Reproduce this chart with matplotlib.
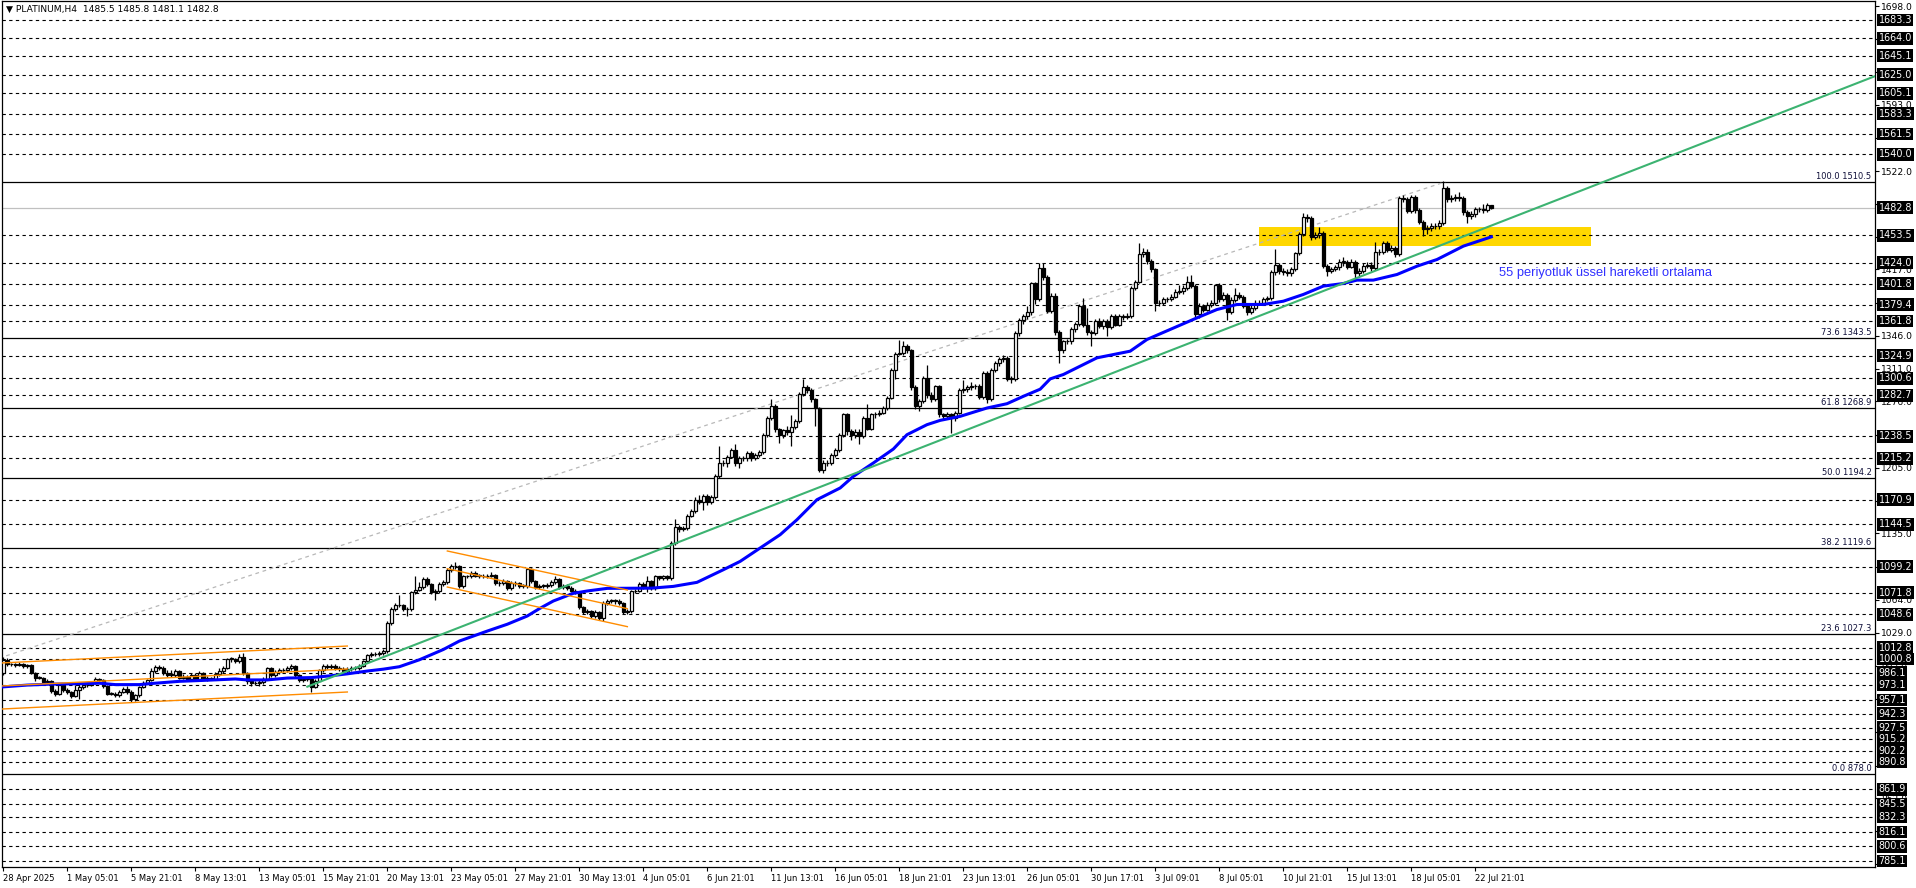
import numpy as np
import matplotlib.pyplot as plt
from matplotlib.patches import Rectangle
from matplotlib.transforms import blended_transform_factory

# свечи H4 (open = close предыдущей свечи)
first_open = 986
closes = [
    1000, 995, 995, 994, 995, 993, 994, 986, 981, 981,
    976, 977, 967, 963, 973, 968, 966, 961, 968, 971,
    973, 973, 975, 980, 978, 972, 964, 964, 962, 966,
    969, 966, 958, 962, 971, 975, 978, 988, 992, 991,
    986, 984, 984, 988, 981, 982, 979, 984, 979, 986,
    981, 980, 980, 985, 988, 991, 1001, 1001, 999, 1003,
    986, 977, 975, 975, 976, 980, 991, 984, 987, 989,
    989, 991, 993, 984, 978, 980, 980, 971, 977, 989,
    993, 992, 993, 991, 990, 988, 990, 991, 991, 993,
    999, 1005, 1006, 1006, 1007, 1009, 1039, 1054, 1059, 1058,
    1054, 1054, 1072, 1075, 1078, 1086, 1081, 1072, 1073, 1081,
    1083, 1096, 1100, 1100, 1079, 1089, 1089, 1093, 1090, 1090,
    1089, 1090, 1091, 1082, 1082, 1084, 1077, 1082, 1082, 1079,
    1079, 1097, 1084, 1078, 1079, 1079, 1080, 1083, 1086, 1078,
    1079, 1077, 1074, 1072, 1056, 1051, 1052, 1047, 1051, 1045,
    1061, 1063, 1063, 1063, 1061, 1051, 1052, 1073, 1074, 1081,
    1078, 1084, 1077, 1089, 1087, 1089, 1087, 1125, 1142, 1140,
    1141, 1154, 1159, 1171, 1169, 1175, 1168, 1174, 1196, 1210,
    1210, 1217, 1224, 1210, 1215, 1215, 1221, 1215, 1219, 1222,
    1240, 1258, 1271, 1246, 1240, 1245, 1243, 1249, 1255, 1284,
    1291, 1288, 1278, 1269, 1203, 1210, 1210, 1219, 1224, 1240,
    1262, 1244, 1240, 1243, 1239, 1258, 1247, 1262, 1262, 1264,
    1269, 1280, 1310, 1327, 1328, 1335, 1331, 1291, 1271, 1276,
    1301, 1283, 1278, 1292, 1262, 1260, 1262, 1258, 1264, 1288,
    1289, 1291, 1292, 1292, 1281, 1306, 1278, 1310, 1317, 1321,
    1322, 1300, 1300, 1349, 1363, 1367, 1371, 1402, 1385, 1418,
    1409, 1372, 1389, 1350, 1331, 1340, 1340, 1353, 1359, 1378,
    1358, 1350, 1349, 1362, 1356, 1362, 1355, 1367, 1358, 1367,
    1366, 1367, 1397, 1404, 1433, 1435, 1426, 1417, 1381, 1381,
    1385, 1385, 1388, 1393, 1394, 1397, 1404, 1399, 1369, 1378,
    1374, 1379, 1381, 1400, 1385, 1390, 1371, 1384, 1390, 1388,
    1378, 1371, 1376, 1381, 1381, 1385, 1386, 1414, 1422, 1415,
    1414, 1413, 1417, 1434, 1455, 1473, 1472, 1452, 1454, 1456,
    1421, 1415, 1417, 1419, 1425, 1425, 1420, 1425, 1413, 1415,
    1421, 1422, 1418, 1435, 1436, 1445, 1438, 1440, 1433, 1493,
    1492, 1479, 1494, 1480, 1468, 1460, 1461, 1463, 1463, 1467,
    1504, 1492, 1493, 1494, 1493, 1478, 1474, 1476, 1481, 1481,
    1480, 1485.5, 1482.8,
]
highs = [
    1003, 1002, 997, 997, 998, 997, 996, 996, 987, 983,
    982, 979, 978, 969, 975, 974, 970, 967, 973, 974,
    975, 975, 977, 982, 981, 979, 973, 966, 966, 968,
    971, 972, 968, 964, 972, 977, 980, 991, 994, 994,
    993, 989, 989, 990, 989, 985, 984, 986, 986, 988,
    987, 983, 982, 987, 991, 993, 1002, 1003, 1002, 1006,
    1007, 987, 978, 977, 978, 982, 992, 992, 989, 991,
    991, 993, 996, 994, 985, 982, 982, 981, 979, 990,
    995, 995, 995, 995, 993, 992, 992, 993, 993, 995,
    1000, 1006, 1008, 1008, 1009, 1011, 1041, 1056, 1061, 1069,
    1060, 1056, 1074, 1089, 1083, 1088, 1088, 1082, 1076, 1083,
    1085, 1098, 1102, 1104, 1101, 1091, 1091, 1095, 1095, 1092,
    1092, 1092, 1094, 1092, 1084, 1086, 1085, 1084, 1084, 1083,
    1081, 1098, 1098, 1085, 1081, 1081, 1082, 1085, 1090, 1087,
    1081, 1081, 1079, 1076, 1073, 1057, 1054, 1053, 1053, 1052,
    1063, 1065, 1065, 1065, 1065, 1062, 1054, 1075, 1076, 1083,
    1083, 1090, 1085, 1091, 1090, 1091, 1091, 1127, 1150, 1144,
    1143, 1156, 1161, 1174, 1176, 1177, 1177, 1176, 1198, 1228,
    1213, 1219, 1226, 1230, 1218, 1218, 1223, 1223, 1221, 1224,
    1242, 1260, 1278, 1273, 1248, 1247, 1250, 1261, 1257, 1286,
    1300, 1293, 1290, 1280, 1270, 1213, 1213, 1221, 1226, 1242,
    1264, 1264, 1246, 1246, 1246, 1260, 1273, 1264, 1265, 1267,
    1271, 1282, 1312, 1329, 1342, 1341, 1337, 1332, 1293, 1279,
    1303, 1315, 1286, 1294, 1293, 1264, 1265, 1264, 1266, 1290,
    1299, 1294, 1297, 1295, 1295, 1308, 1308, 1312, 1319, 1323,
    1325, 1324, 1303, 1351, 1365, 1369, 1378, 1404, 1404, 1424,
    1424, 1411, 1392, 1392, 1352, 1342, 1343, 1355, 1361, 1380,
    1386, 1376, 1352, 1364, 1365, 1364, 1364, 1369, 1369, 1369,
    1369, 1370, 1399, 1406, 1445, 1440, 1439, 1428, 1418, 1384,
    1388, 1388, 1391, 1396, 1400, 1400, 1410, 1411, 1401, 1381,
    1380, 1382, 1384, 1401, 1402, 1393, 1392, 1387, 1397, 1393,
    1390, 1380, 1379, 1384, 1384, 1388, 1389, 1416, 1439, 1424,
    1418, 1417, 1420, 1436, 1457, 1477, 1476, 1474, 1457, 1462,
    1458, 1423, 1420, 1422, 1428, 1430, 1427, 1428, 1427, 1418,
    1424, 1425, 1425, 1446, 1439, 1447, 1447, 1443, 1442, 1495,
    1496, 1494, 1496, 1496, 1482, 1470, 1464, 1466, 1467, 1470,
    1511, 1506, 1496, 1497, 1500, 1495, 1480, 1479, 1484, 1484,
    1487, 1488, 1485.8,
]
lows = [
    984, 993, 993, 992, 993, 991, 991, 985, 977, 979,
    974, 975, 965, 961, 962, 966, 964, 959, 960, 958,
    969, 971, 972, 974, 975, 970, 962, 962, 960, 960,
    965, 964, 955, 956, 960, 970, 974, 977, 986, 989,
    984, 982, 982, 982, 979, 979, 977, 977, 977, 977,
    979, 977, 978, 978, 983, 986, 990, 998, 997, 997,
    984, 974, 972, 973, 972, 974, 979, 982, 982, 985,
    987, 987, 989, 982, 976, 976, 977, 966, 970, 976,
    987, 990, 990, 989, 988, 986, 986, 988, 989, 989,
    992, 998, 1003, 1004, 1004, 1005, 1007, 1037, 1052, 1056,
    1052, 1047, 1052, 1070, 1073, 1076, 1079, 1070, 1064, 1071,
    1079, 1081, 1094, 1097, 1077, 1077, 1087, 1087, 1088, 1087,
    1087, 1087, 1088, 1080, 1079, 1080, 1075, 1075, 1079, 1077,
    1077, 1077, 1082, 1076, 1076, 1077, 1077, 1078, 1081, 1076,
    1076, 1075, 1072, 1070, 1054, 1049, 1049, 1045, 1045, 1042,
    1041, 1059, 1061, 1060, 1059, 1049, 1049, 1050, 1071, 1072,
    1076, 1072, 1075, 1075, 1085, 1085, 1085, 1085, 1123, 1137,
    1138, 1139, 1152, 1157, 1166, 1160, 1165, 1166, 1172, 1194,
    1207, 1206, 1215, 1207, 1205, 1212, 1212, 1212, 1213, 1217,
    1220, 1238, 1256, 1243, 1232, 1237, 1240, 1228, 1247, 1253,
    1282, 1285, 1275, 1250, 1201, 1200, 1207, 1208, 1217, 1222,
    1238, 1240, 1235, 1237, 1230, 1237, 1245, 1245, 1258, 1260,
    1262, 1267, 1278, 1300, 1325, 1326, 1328, 1288, 1268, 1266,
    1274, 1280, 1275, 1276, 1259, 1257, 1257, 1242, 1255, 1262,
    1285, 1286, 1288, 1289, 1278, 1278, 1274, 1276, 1307, 1314,
    1318, 1298, 1296, 1298, 1346, 1359, 1364, 1368, 1380, 1383,
    1406, 1370, 1370, 1347, 1317, 1328, 1337, 1337, 1350, 1357,
    1355, 1347, 1335, 1347, 1354, 1353, 1346, 1353, 1356, 1356,
    1363, 1364, 1365, 1395, 1402, 1430, 1423, 1414, 1372, 1378,
    1379, 1382, 1383, 1386, 1391, 1391, 1395, 1397, 1366, 1365,
    1371, 1372, 1377, 1379, 1382, 1383, 1363, 1369, 1382, 1385,
    1376, 1368, 1369, 1374, 1379, 1379, 1383, 1384, 1411, 1412,
    1411, 1410, 1410, 1415, 1432, 1453, 1468, 1448, 1449, 1451,
    1418, 1410, 1413, 1415, 1416, 1421, 1417, 1418, 1407, 1410,
    1413, 1418, 1415, 1416, 1432, 1433, 1435, 1435, 1430, 1431,
    1489, 1477, 1477, 1477, 1465, 1453, 1455, 1458, 1460, 1460,
    1464, 1489, 1489, 1490, 1490, 1475, 1467, 1471, 1473, 1478,
    1477, 1478, 1481.1,
]

# EMA 55 (номер свечи, цена)
ema_x = [-0.3, 6, 12, 20, 24, 28, 34, 38, 44, 50, 58, 61, 66, 71, 77, 82, 86, 91, 95, 99,
         104, 110, 114, 121, 126, 131, 134, 137.5, 142.5, 146, 151, 162, 167.5, 173.4,
         180, 184.2, 189.2, 194.2, 198.4, 203.4, 209.2, 212.5, 217.5, 222.5, 225.9, 230.9,
         234.2, 239.2, 245.9, 250.9, 255, 259.2, 261.7, 265, 273.4, 281.7, 285.9, 291.7,
         298.4, 303.4, 308.4, 315, 320, 325, 330, 335, 338.4, 342.5, 348.4, 353.4, 358.4,
         365, 372]
ema_y = [971, 973, 974, 974.5, 975, 973.5, 973.5, 975, 977, 978, 979.5, 978.5, 978.5, 980.5,
         981, 983, 985, 988, 990, 992.6, 1000, 1011, 1020, 1030.7, 1038, 1046.8, 1054.6,
         1062.8, 1071, 1073.5, 1076.3, 1076.5, 1078.4, 1082.7, 1096.2, 1105.1, 1119.4,
         1133.6, 1149.6, 1171, 1183.5, 1195.9, 1210.2, 1225.1, 1240.4, 1251.1, 1255.7, 1260,
         1268.9, 1273.5, 1281.4, 1289, 1300, 1304.7, 1322.5, 1329.6, 1342.1, 1352.8, 1365.2,
         1374.1, 1379.5, 1379.5, 1383, 1390.2, 1399.1, 1401.9, 1405.5, 1405.5, 1411.5, 1420.4,
         1427.5, 1441.8, 1451.7]

date_labels = ['28 Apr 2025', '1 May 05:01', '5 May 21:01', '8 May 13:01', '13 May 05:01',
               '15 May 21:01', '20 May 13:01', '23 May 05:01', '27 May 21:01', '30 May 13:01',
               '4 Jun 05:01', '6 Jun 21:01', '11 Jun 13:01', '16 Jun 05:01', '18 Jun 21:01',
               '23 Jun 13:01', '26 Jun 05:01', '30 Jun 17:01', '3 Jul 09:01', '8 Jul 05:01',
               '10 Jul 21:01', '15 Jul 13:01', '18 Jul 05:01', '22 Jul 21:01']
bars_per_label = 16

# уровни (пунктир + чёрная плашка справа)
levels = [1683.3, 1664.0, 1645.1, 1625.0, 1605.1, 1583.3, 1561.5, 1540.0, 1453.5, 1424.0,
          1401.8, 1379.4, 1361.8, 1324.9, 1300.6, 1282.7, 1238.5, 1215.2, 1170.9, 1144.5,
          1099.2, 1071.8, 1048.6, 1012.8, 1000.8, 986.1, 973.1, 957.1, 942.3, 927.5,
          915.2, 902.2, 890.8, 861.9, 845.5, 832.3, 816.1, 800.6, 785.1]
bid = 1482.8
scale_ticks = [1698.0, 1663.0, 1628.0, 1593.0, 1557.0, 1522.0, 1487.0, 1452.0, 1417.0, 1381.0,
               1346.0, 1311.0, 1276.0, 1240.0, 1205.0, 1170.0, 1135.0, 1099.0, 1064.0, 1029.0,
               993.0, 958.0, 923.0, 887.0, 852.0, 817.0, 782.0]
fib_pct = [0.0, 23.6, 38.2, 50.0, 61.8, 73.6, 100.0]
fib_price = [878.0, 1027.3, 1119.6, 1194.2, 1268.9, 1343.5, 1510.5]
fib_anchor_x = [-89, 360.5]
fib_anchor_y = [878.0, 1510.5]

trend_x = [76, 468]
trend_y = [971.3, 1623.5]

# каналы (верх, середина, низ)
chan1_x = [-0.5, 86]
chan1_y = [[996.6, 1014.7], [972.0, 990.2], [947.4, 965.6]]
chan2_x = [111, 156]
chan2_y = [[1116.2, 1074.5], [1097.3, 1054.6], [1077.7, 1035.4]]

zone_x = [314, 397]
zone_y = [1442.2, 1462.5]

W, H = 1916, 888
fig = plt.figure(figsize=(W / 100, H / 100), dpi=100)
ax = fig.add_axes([2 / W, 21 / H, 1873 / W, 866 / H])
ax.set_xlim(-0.33, 467.9)
ax.set_ylim(778.7, 1703.6)

c = np.array(closes, float)
o = np.r_[first_open, c[:-1]]
h = np.array(highs, float)
l = np.array(lows, float)
x = np.arange(len(c))

# уровни
for lv in levels:
    ax.axhline(lv, color='black', lw=0.8, ls=(0, (3, 3)), zorder=1)
for lv in fib_price:
    ax.axhline(lv, color='black', lw=0.9, zorder=1)
ax.axhline(bid, color='#c0c0c0', lw=0.9, zorder=1)

ax.add_patch(Rectangle((zone_x[0], zone_y[0]), zone_x[1] - zone_x[0], zone_y[1] - zone_y[0],
                       facecolor='#ffd700', edgecolor='none', zorder=0.5))

ax.plot(fib_anchor_x, fib_anchor_y, color='#b8b8b8', lw=0.9, ls=(0, (3, 3)), zorder=1.5)

# свечи
ax.vlines(x, l, h, color='black', lw=0.9, zorder=3)
up = c >= o
body = np.maximum(np.abs(c - o), 0.5)
ax.bar(x[up], body[up], bottom=np.minimum(o, c)[up], width=0.6,
       color='white', edgecolor='black', lw=0.9, zorder=3.5)
ax.bar(x[~up], body[~up], bottom=np.minimum(o, c)[~up], width=0.6,
       color='black', edgecolor='black', lw=0.9, zorder=3.5)

ax.plot(ema_x, ema_y, color='#0000ff', lw=2.2, zorder=4)

ax.plot(trend_x, trend_y, color='#3cb371', lw=1.5, zorder=4.5)
for yy in chan1_y:
    ax.plot(chan1_x, yy, color='#ff8c00', lw=1.0, zorder=4)
for yy in chan2_y:
    ax.plot(chan2_x, yy, color='#ff8c00', lw=1.0, zorder=4)

ax.text(374, 1413.4, '55 periyotluk üssel hareketli ortalama', color='#3030ff',
        fontsize=9.3, family='Liberation Sans', va='center', ha='left', zorder=6)

# подписи фибо
for p, v in zip(fib_pct, fib_price):
    ax.text(467, v + 1.2, f'{p:.1f} {v:.1f}', fontsize=6.0, color='#10103a',
            ha='right', va='bottom', zorder=6)

ax.text(4 / 1873, 1 - 8 / 866, '\u25bc PLATINUM,H4  1485.5 1485.8 1481.1 1482.8',
        transform=ax.transAxes, fontsize=6.6, va='center', ha='left', zorder=6)

# ось цен справа; подписи, целиком закрытые плашками, не пишем
ax.yaxis.tick_right()
ax.set_yticks(scale_ticks)
ax.set_yticklabels(['' if min(abs(v - lv) for lv in levels + [bid]) < 5 else f'{v:.1f}'
                    for v in scale_ticks])
ax.tick_params(axis='y', length=3, width=0.8, pad=1.5, labelsize=6.6, direction='out')

tr = blended_transform_factory(ax.transAxes, ax.transData)
for lv in levels + [bid]:
    ax.text(1 + 3.5 / 1873, lv, f'{lv:.1f}', transform=tr, fontsize=6.9, color='white',
            va='center', ha='left', clip_on=False, zorder=10,
            bbox=dict(boxstyle='square,pad=0.15', fc='black', ec='none'))

# ось времени
xt = np.arange(len(date_labels)) * bars_per_label
ax.set_xticks(xt)
ax.set_xticklabels(date_labels, ha='left')
ax.tick_params(axis='x', length=3, width=0.8, pad=2, labelsize=6.0, direction='out')

for s in ax.spines.values():
    s.set_linewidth(0.9)
    s.set_color('black')

fig.savefig('out.png', dpi=100, facecolor='white')
